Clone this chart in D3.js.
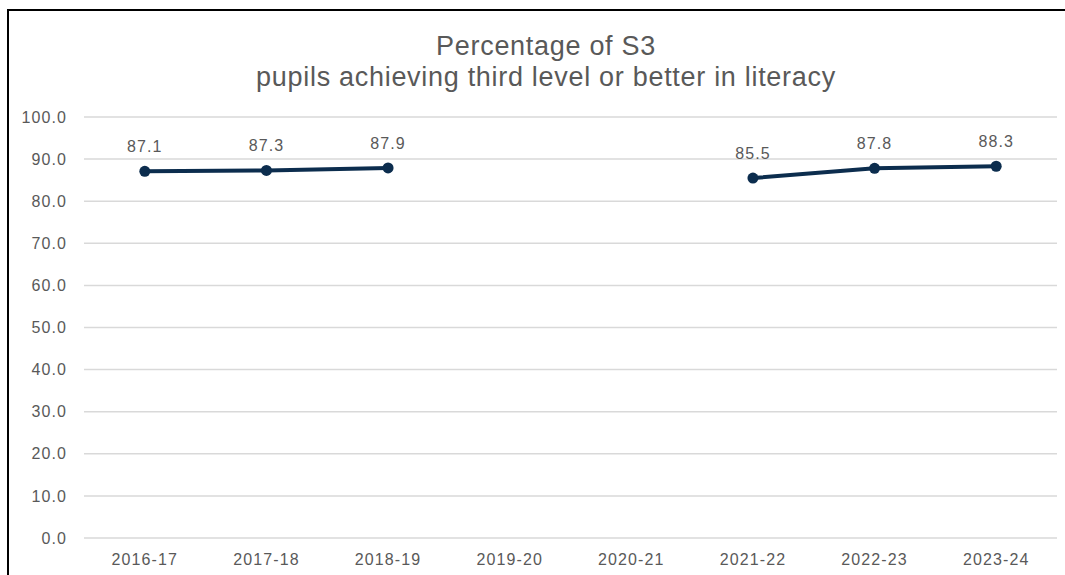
<!DOCTYPE html>
<html>
<head>
<meta charset="utf-8">
<script src="https://cdn.jsdelivr.net/npm/d3@7"></script>
<style>
  body { margin: 0; background: #fff; }
  svg { display: block; font-family: "Liberation Sans", Arial, sans-serif; }
</style>
</head>
<body>
<div class="container"></div>
<script>
var width = 1065;
var height = 575;
var margin = {top: 117, right: 8, bottom: 37, left: 84};

var years = ["2016-17","2017-18","2018-19","2019-20","2020-21","2021-22","2022-23","2023-24"];
var values = [87.1, 87.3, 87.9, null, null, 85.5, 87.8, 88.3];
var yTicks = [0, 10, 20, 30, 40, 50, 60, 70, 80, 90, 100];
var titleLines = ["Percentage of S3", "pupils achieving third level or better in literacy"];

var data = years.map((d, i) => ({year: d, value: values[i]}));

var svg = d3.select(".container")
  .append("svg")
  .attr("width", width)
  .attr("height", height);

// frame
svg.append("rect")
  .attr("x", 8).attr("y", 10)
  .attr("width", width + 10).attr("height", height + 10)
  .attr("fill", "none")
  .attr("stroke", "#000")
  .attr("stroke-width", 2);

//-----------------------------------------
// scales
var xScale = d3.scaleBand()
  .domain(years)
  .range([margin.left, width - margin.right]);

var yScale = d3.scaleLinear()
  .domain([0, 100])
  .range([height - margin.bottom, margin.top]);

// gridlines
svg.append("g")
  .selectAll("line")
  .data(yTicks)
  .enter()
  .append("line")
  .attr("x1", margin.left)
  .attr("x2", width - margin.right)
  .attr("y1", d => yScale(d))
  .attr("y2", d => yScale(d))
  .attr("stroke", "#d9d9d9")
  .attr("stroke-width", 1.5);

// axes (text only)
var yAxis = d3.axisLeft(yScale)
  .tickValues(yTicks)
  .tickFormat(d3.format(".1f"))
  .tickSize(0)
  .tickPadding(17);
svg.append("g")
  .attr("transform", "translate(" + margin.left + ",0)")
  .call(yAxis)
  .call(g => g.select(".domain").remove())
  .selectAll("text")
  .attr("fill", "#595959")
  .style("font-size", "16px")
  .style("letter-spacing", "1.1px");

var xAxis = d3.axisBottom(xScale).tickSize(0).tickPadding(16);
svg.append("g")
  .attr("transform", "translate(0," + (height - margin.bottom) + ")")
  .call(xAxis)
  .call(g => g.select(".domain").remove())
  .selectAll("text")
  .attr("fill", "#595959")
  .style("font-size", "16px")
  .style("letter-spacing", "1.1px");

//-----------------------------------------
// line
var line = d3.line()
  .defined(d => d.value != null)
  .x(d => xScale(d.year) + xScale.bandwidth() / 2)
  .y(d => yScale(d.value));

svg.append("path")
  .datum(data)
  .attr("d", line)
  .attr("fill", "none")
  .attr("stroke", "#0c2d4e")
  .attr("stroke-width", 4);

var pts = data.filter(d => d.value != null);

svg.selectAll(".dot")
  .data(pts)
  .enter()
  .append("circle")
  .attr("class", "dot")
  .attr("cx", d => xScale(d.year) + xScale.bandwidth() / 2)
  .attr("cy", d => yScale(d.value))
  .attr("r", 5.5)
  .attr("fill", "#0c2d4e");

svg.selectAll(".lbl")
  .data(pts)
  .enter()
  .append("text")
  .attr("class", "lbl")
  .attr("x", d => xScale(d.year) + xScale.bandwidth() / 2)
  .attr("y", d => yScale(d.value) - 19)
  .attr("text-anchor", "middle")
  .attr("fill", "#595959")
  .style("font-size", "16px")
  .style("letter-spacing", "1.1px")
  .text(d => d3.format(".1f")(d.value));

//-----------------------------------------
// title
svg.append("g")
  .selectAll("text")
  .data(titleLines)
  .enter()
  .append("text")
  .attr("x", 546)
  .attr("y", (d, i) => 55 + i * 31)
  .attr("text-anchor", "middle")
  .attr("fill", "#595959")
  .style("font-size", "27px")
  .style("letter-spacing", "0.7px")
  .text(d => d);
</script>
</body>
</html>
